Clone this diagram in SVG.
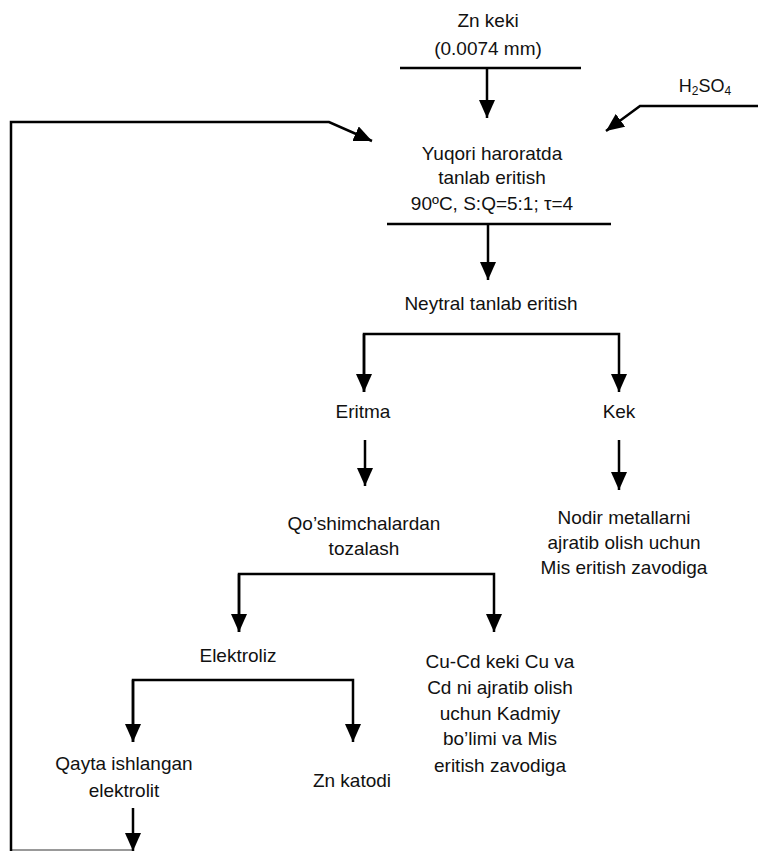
<svg xmlns="http://www.w3.org/2000/svg" width="758" height="851" viewBox="0 0 758 851">
<defs>
<marker id="ah" markerUnits="userSpaceOnUse" markerWidth="18" markerHeight="16" viewBox="0 0 18 16" refX="18" refY="8" orient="auto">
<path d="M0,0 L18,8 L0,16 z" fill="#000"/>
</marker>
<style>
text{font-family:"Liberation Sans",Arial,sans-serif;font-size:19px;fill:#111;text-anchor:middle}
.c{fill:none;stroke:#000;stroke-width:2.5}
.a{marker-end:url(#ah)}
</style>
</defs>
<rect width="758" height="851" fill="#fff"/>
<g id="connectors">
<line class="c" x1="400" y1="68" x2="581" y2="68"/>
<line class="c a" x1="487" y1="68" x2="487" y2="118"/>
<polyline class="c a" points="758,106 640,106 606,131"/>
<line x1="11" y1="850" x2="133" y2="850" stroke="#777" stroke-width="1.5"/>
<polyline class="c a" points="11,851 11,122 329,122 372,141"/>
<line class="c" x1="387" y1="224" x2="611" y2="224"/>
<line class="c a" x1="488" y1="224" x2="488" y2="280"/>
<polyline class="c a" points="364,392 364,334 619,334 619,392"/>
<line class="c a" x1="364" y1="334" x2="364" y2="392"/>
<line class="c a" x1="365" y1="440" x2="365" y2="486"/>
<line class="c a" x1="619" y1="440" x2="619" y2="490"/>
<polyline class="c a" points="239,632 239,574 494,574 494,632"/>
<line class="c a" x1="239" y1="574" x2="239" y2="632"/>
<polyline class="c a" points="133,742 133,680 353,680 353,742"/>
<line class="c a" x1="133" y1="680" x2="133" y2="742"/>
<line class="c a" x1="133" y1="808" x2="133" y2="851"/>
</g>
<g id="n-znkeki"><text x="488" y="27">Zn keki</text><text x="488" y="55">(0.0074 mm)</text></g>
<g id="n-h2so4"><text x="705" y="92" style="font-size:18px">H<tspan font-size="12" dy="3">2</tspan><tspan dy="-3">SO</tspan><tspan font-size="12" dy="3">4</tspan></text></g>
<g id="n-yuqori"><text x="492" y="160">Yuqori haroratda</text><text x="492" y="184">tanlab eritish</text><text x="492" y="210">90ºC, S:Q=5:1; τ=4</text></g>
<g id="n-neytral"><text x="491" y="310">Neytral tanlab eritish</text></g>
<g id="n-eritma"><text x="363" y="418">Eritma</text></g>
<g id="n-kek"><text x="619" y="418">Kek</text></g>
<g id="n-qoshim"><text x="364" y="530">Qo’shimchalardan</text><text x="364" y="555">tozalash</text></g>
<g id="n-nodir"><text x="624" y="524">Nodir metallarni</text><text x="624" y="549">ajratib olish uchun</text><text x="624" y="574">Mis eritish zavodiga</text></g>
<g id="n-elektroliz"><text x="238" y="662">Elektroliz</text></g>
<g id="n-cucd"><text x="500" y="668">Cu-Cd keki Cu va</text><text x="500" y="694">Cd ni ajratib olish</text><text x="500" y="720">uchun Kadmiy</text><text x="500" y="745">bo’limi va Mis</text><text x="500" y="772">eritish zavodiga</text></g>
<g id="n-qayta"><text x="124" y="770">Qayta ishlangan</text><text x="124" y="797">elektrolit</text></g>
<g id="n-znkatodi"><text x="352" y="787">Zn katodi</text></g>
</svg>
